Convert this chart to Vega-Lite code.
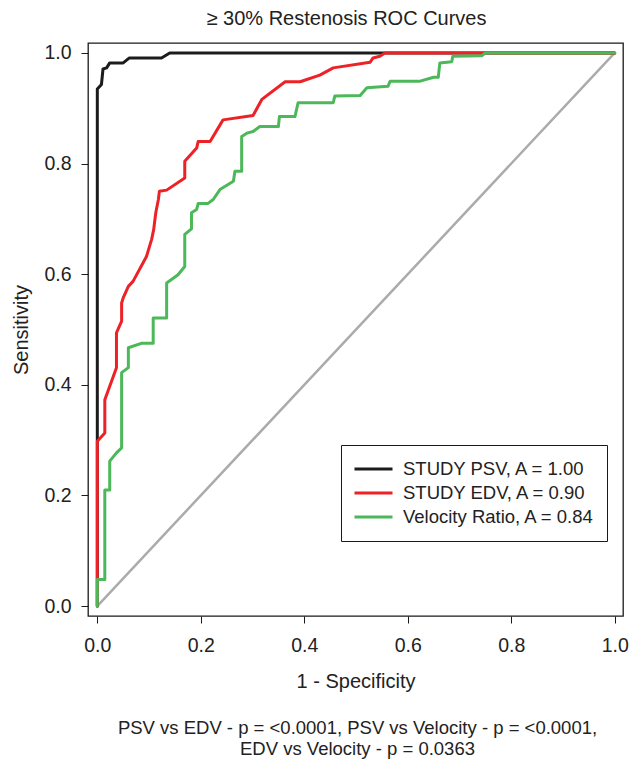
{
  "$schema": "https://vega.github.io/schema/vega-lite/v6.json",
  "autosize": {"type": "none"},
  "width": 535,
  "height": 573,
  "padding": {"left": 88, "top": 43, "right": 7, "bottom": 144},
  "background": "white",
  "title": {"text": "≥ 30% Restenosis ROC Curves", "font": "Liberation Sans", "fontSize": 20, "fontWeight": "normal", "color": "#222222", "anchor": "middle", "frame": "group", "dx": -9, "offset": 14},
  "config": {"view": {"stroke": "#1a1a1a", "strokeWidth": 1.3}},
  "datasets": {
    "roc": [
      {"series": "STUDY PSV, A = 1.00", "fpr": 0, "tpr": 0},
      {"series": "STUDY PSV, A = 1.00", "fpr": 0, "tpr": 0.935},
      {"series": "STUDY PSV, A = 1.00", "fpr": 0.008, "tpr": 0.943},
      {"series": "STUDY PSV, A = 1.00", "fpr": 0.011, "tpr": 0.971},
      {"series": "STUDY PSV, A = 1.00", "fpr": 0.018, "tpr": 0.973},
      {"series": "STUDY PSV, A = 1.00", "fpr": 0.024, "tpr": 0.982},
      {"series": "STUDY PSV, A = 1.00", "fpr": 0.05, "tpr": 0.982},
      {"series": "STUDY PSV, A = 1.00", "fpr": 0.062, "tpr": 0.991},
      {"series": "STUDY PSV, A = 1.00", "fpr": 0.124, "tpr": 0.991},
      {"series": "STUDY PSV, A = 1.00", "fpr": 0.14, "tpr": 1},
      {"series": "STUDY PSV, A = 1.00", "fpr": 1, "tpr": 1},
      {"series": "STUDY EDV, A = 0.90", "fpr": 0, "tpr": 0},
      {"series": "STUDY EDV, A = 0.90", "fpr": 0, "tpr": 0.298},
      {"series": "STUDY EDV, A = 0.90", "fpr": 0.0145, "tpr": 0.313},
      {"series": "STUDY EDV, A = 0.90", "fpr": 0.0145, "tpr": 0.373},
      {"series": "STUDY EDV, A = 0.90", "fpr": 0.037, "tpr": 0.431},
      {"series": "STUDY EDV, A = 0.90", "fpr": 0.037, "tpr": 0.494},
      {"series": "STUDY EDV, A = 0.90", "fpr": 0.047, "tpr": 0.515},
      {"series": "STUDY EDV, A = 0.90", "fpr": 0.047, "tpr": 0.548},
      {"series": "STUDY EDV, A = 0.90", "fpr": 0.05, "tpr": 0.557},
      {"series": "STUDY EDV, A = 0.90", "fpr": 0.06, "tpr": 0.578},
      {"series": "STUDY EDV, A = 0.90", "fpr": 0.069, "tpr": 0.587},
      {"series": "STUDY EDV, A = 0.90", "fpr": 0.095, "tpr": 0.632},
      {"series": "STUDY EDV, A = 0.90", "fpr": 0.105, "tpr": 0.663},
      {"series": "STUDY EDV, A = 0.90", "fpr": 0.109, "tpr": 0.681},
      {"series": "STUDY EDV, A = 0.90", "fpr": 0.113, "tpr": 0.711},
      {"series": "STUDY EDV, A = 0.90", "fpr": 0.118, "tpr": 0.735},
      {"series": "STUDY EDV, A = 0.90", "fpr": 0.12, "tpr": 0.75},
      {"series": "STUDY EDV, A = 0.90", "fpr": 0.134, "tpr": 0.752},
      {"series": "STUDY EDV, A = 0.90", "fpr": 0.169, "tpr": 0.774},
      {"series": "STUDY EDV, A = 0.90", "fpr": 0.169, "tpr": 0.804},
      {"series": "STUDY EDV, A = 0.90", "fpr": 0.192, "tpr": 0.828},
      {"series": "STUDY EDV, A = 0.90", "fpr": 0.195, "tpr": 0.84},
      {"series": "STUDY EDV, A = 0.90", "fpr": 0.218, "tpr": 0.84},
      {"series": "STUDY EDV, A = 0.90", "fpr": 0.243, "tpr": 0.879},
      {"series": "STUDY EDV, A = 0.90", "fpr": 0.301, "tpr": 0.887},
      {"series": "STUDY EDV, A = 0.90", "fpr": 0.318, "tpr": 0.916},
      {"series": "STUDY EDV, A = 0.90", "fpr": 0.363, "tpr": 0.948},
      {"series": "STUDY EDV, A = 0.90", "fpr": 0.392, "tpr": 0.948},
      {"series": "STUDY EDV, A = 0.90", "fpr": 0.43, "tpr": 0.96},
      {"series": "STUDY EDV, A = 0.90", "fpr": 0.456, "tpr": 0.973},
      {"series": "STUDY EDV, A = 0.90", "fpr": 0.527, "tpr": 0.983},
      {"series": "STUDY EDV, A = 0.90", "fpr": 0.533, "tpr": 0.991},
      {"series": "STUDY EDV, A = 0.90", "fpr": 0.546, "tpr": 0.994},
      {"series": "STUDY EDV, A = 0.90", "fpr": 0.556, "tpr": 1},
      {"series": "STUDY EDV, A = 0.90", "fpr": 1, "tpr": 1},
      {"series": "Velocity Ratio, A = 0.84", "fpr": 0, "tpr": 0},
      {"series": "Velocity Ratio, A = 0.84", "fpr": 0, "tpr": 0.048},
      {"series": "Velocity Ratio, A = 0.84", "fpr": 0.0145, "tpr": 0.048},
      {"series": "Velocity Ratio, A = 0.84", "fpr": 0.0145, "tpr": 0.21},
      {"series": "Velocity Ratio, A = 0.84", "fpr": 0.024, "tpr": 0.21},
      {"series": "Velocity Ratio, A = 0.84", "fpr": 0.024, "tpr": 0.262},
      {"series": "Velocity Ratio, A = 0.84", "fpr": 0.037, "tpr": 0.277},
      {"series": "Velocity Ratio, A = 0.84", "fpr": 0.047, "tpr": 0.286},
      {"series": "Velocity Ratio, A = 0.84", "fpr": 0.047, "tpr": 0.422},
      {"series": "Velocity Ratio, A = 0.84", "fpr": 0.06, "tpr": 0.431},
      {"series": "Velocity Ratio, A = 0.84", "fpr": 0.06, "tpr": 0.467},
      {"series": "Velocity Ratio, A = 0.84", "fpr": 0.085, "tpr": 0.475},
      {"series": "Velocity Ratio, A = 0.84", "fpr": 0.108, "tpr": 0.475},
      {"series": "Velocity Ratio, A = 0.84", "fpr": 0.108, "tpr": 0.521},
      {"series": "Velocity Ratio, A = 0.84", "fpr": 0.134, "tpr": 0.521},
      {"series": "Velocity Ratio, A = 0.84", "fpr": 0.134, "tpr": 0.584},
      {"series": "Velocity Ratio, A = 0.84", "fpr": 0.156, "tpr": 0.599},
      {"series": "Velocity Ratio, A = 0.84", "fpr": 0.169, "tpr": 0.614},
      {"series": "Velocity Ratio, A = 0.84", "fpr": 0.169, "tpr": 0.672},
      {"series": "Velocity Ratio, A = 0.84", "fpr": 0.182, "tpr": 0.682},
      {"series": "Velocity Ratio, A = 0.84", "fpr": 0.182, "tpr": 0.711},
      {"series": "Velocity Ratio, A = 0.84", "fpr": 0.192, "tpr": 0.717},
      {"series": "Velocity Ratio, A = 0.84", "fpr": 0.195, "tpr": 0.728},
      {"series": "Velocity Ratio, A = 0.84", "fpr": 0.214, "tpr": 0.728},
      {"series": "Velocity Ratio, A = 0.84", "fpr": 0.224, "tpr": 0.735},
      {"series": "Velocity Ratio, A = 0.84", "fpr": 0.237, "tpr": 0.753},
      {"series": "Velocity Ratio, A = 0.84", "fpr": 0.263, "tpr": 0.768},
      {"series": "Velocity Ratio, A = 0.84", "fpr": 0.266, "tpr": 0.786},
      {"series": "Velocity Ratio, A = 0.84", "fpr": 0.279, "tpr": 0.786},
      {"series": "Velocity Ratio, A = 0.84", "fpr": 0.279, "tpr": 0.849},
      {"series": "Velocity Ratio, A = 0.84", "fpr": 0.289, "tpr": 0.855},
      {"series": "Velocity Ratio, A = 0.84", "fpr": 0.301, "tpr": 0.858},
      {"series": "Velocity Ratio, A = 0.84", "fpr": 0.314, "tpr": 0.867},
      {"series": "Velocity Ratio, A = 0.84", "fpr": 0.35, "tpr": 0.867},
      {"series": "Velocity Ratio, A = 0.84", "fpr": 0.352, "tpr": 0.885},
      {"series": "Velocity Ratio, A = 0.84", "fpr": 0.382, "tpr": 0.885},
      {"series": "Velocity Ratio, A = 0.84", "fpr": 0.388, "tpr": 0.91},
      {"series": "Velocity Ratio, A = 0.84", "fpr": 0.456, "tpr": 0.91},
      {"series": "Velocity Ratio, A = 0.84", "fpr": 0.459, "tpr": 0.922},
      {"series": "Velocity Ratio, A = 0.84", "fpr": 0.508, "tpr": 0.923},
      {"series": "Velocity Ratio, A = 0.84", "fpr": 0.521, "tpr": 0.937},
      {"series": "Velocity Ratio, A = 0.84", "fpr": 0.562, "tpr": 0.94},
      {"series": "Velocity Ratio, A = 0.84", "fpr": 0.566, "tpr": 0.949},
      {"series": "Velocity Ratio, A = 0.84", "fpr": 0.624, "tpr": 0.949},
      {"series": "Velocity Ratio, A = 0.84", "fpr": 0.65, "tpr": 0.956},
      {"series": "Velocity Ratio, A = 0.84", "fpr": 0.659, "tpr": 0.956},
      {"series": "Velocity Ratio, A = 0.84", "fpr": 0.662, "tpr": 0.982},
      {"series": "Velocity Ratio, A = 0.84", "fpr": 0.685, "tpr": 0.984},
      {"series": "Velocity Ratio, A = 0.84", "fpr": 0.687, "tpr": 0.994},
      {"series": "Velocity Ratio, A = 0.84", "fpr": 0.743, "tpr": 0.995},
      {"series": "Velocity Ratio, A = 0.84", "fpr": 0.75, "tpr": 1},
      {"series": "Velocity Ratio, A = 0.84", "fpr": 1, "tpr": 1}
    ],
    "diag": [
      {"fpr": 0, "tpr": 0},
      {"fpr": 1, "tpr": 1}
    ]
  },
  "layer": [
    {
      "data": {"name": "diag"},
      "mark": {"type": "line", "color": "#ababab", "strokeWidth": 2.5, "strokeCap": "round"},
      "encoding": {
        "x": {
          "field": "fpr", "type": "quantitative",
          "scale": {"domain": [-0.018, 1.016], "nice": false, "zero": false},
          "axis": {
            "orient": "bottom",
            "values": [0, 0.2, 0.4, 0.6, 0.8, 1], "format": ".1f",
            "domain": false, "grid": false,
            "tickSize": 7, "tickColor": "#1a1a1a", "tickWidth": 1,
            "labelFont": "Liberation Sans", "labelFontSize": 19.5, "labelColor": "#222222",
            "labelPadding": 13, "labelFlush": false, "labelOverlap": false,
            "title": "1 - Specificity",
            "titleFont": "Liberation Sans", "titleFontSize": 20, "titleFontWeight": "normal", "titleColor": "#222222",
            "titlePadding": 17
          }
        },
        "y": {
          "field": "tpr", "type": "quantitative",
          "scale": {"domain": [-0.018, 1.018], "nice": false, "zero": false},
          "axis": {
            "values": [0, 0.2, 0.4, 0.6, 0.8, 1], "format": ".1f",
            "domain": false, "grid": false,
            "tickSize": 7, "tickColor": "#1a1a1a", "tickWidth": 1,
            "labelFont": "Liberation Sans", "labelFontSize": 19.5, "labelColor": "#222222",
            "labelPadding": 10, "labelFlush": false, "labelOverlap": false, "labelAngle": 0,
            "title": "Sensitivity",
            "titleFont": "Liberation Sans", "titleFontSize": 20, "titleFontWeight": "normal", "titleColor": "#222222",
            "titlePadding": 12
          }
        }
      }
    },
    {
      "data": {"name": "roc"},
      "mark": {"type": "line", "strokeWidth": 3, "strokeJoin": "round", "strokeCap": "round"},
      "encoding": {
        "x": {
          "field": "fpr", "type": "quantitative",
          "axis": {
            "orient": "bottom",
            "labels": false, "ticks": false, "domain": false, "grid": false,
            "title": ["PSV vs EDV - p = <0.0001, PSV vs Velocity - p = <0.0001,", "EDV vs Velocity - p = 0.0363"],
            "titleFont": "Liberation Sans", "titleFontSize": 18.5, "titleFontWeight": "normal", "titleColor": "#222222",
            "titleLineHeight": 21, "titleAlign": "center", "titleBaseline": "alphabetic",
            "titleX": 269, "titleY": 117
          }
        },
        "y": {"field": "tpr", "type": "quantitative"},
        "order": [{"field": "fpr", "type": "quantitative"}, {"field": "tpr", "type": "quantitative"}],
        "color": {
          "field": "series", "type": "nominal",
          "scale": {
            "domain": ["STUDY PSV, A = 1.00", "STUDY EDV, A = 0.90", "Velocity Ratio, A = 0.84"],
            "range": ["#1c1c1c", "#ec2227", "#4db85a"]
          },
          "legend": {
            "orient": "none", "legendX": 253, "legendY": 402,
            "title": null,
            "symbolType": "stroke", "symbolSize": 1444, "symbolStrokeWidth": 3,
            "labelFont": "Liberation Sans", "labelFontSize": 18.5, "labelColor": "#222222",
            "labelOffset": 9, "labelLimit": 400,
            "strokeColor": "#1a1a1a", "fillColor": "white", "padding": 12,
            "clipHeight": 24, "rowPadding": 0, "cornerRadius": 0
          }
        }
      }
    }
  ],
  "resolve": {"axis": {"x": "independent"}}
}
